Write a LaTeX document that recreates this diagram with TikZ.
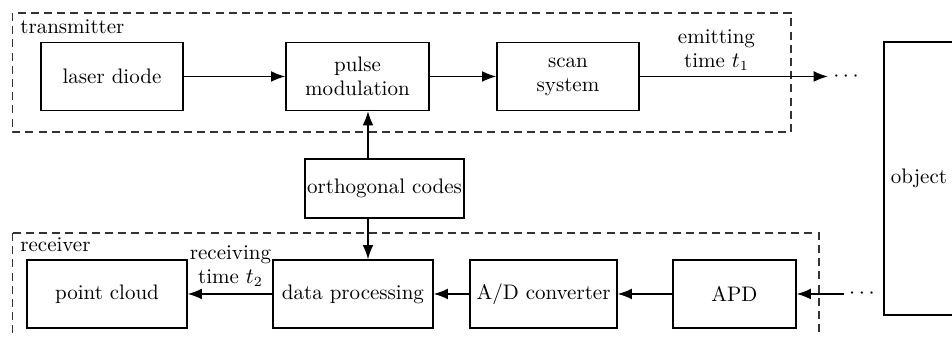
\documentclass[tikz,border=0pt]{standalone}
\usepackage{amsmath}
\usepackage{tikz}
\usetikzlibrary{arrows.meta, positioning, calc}

\begin{document}
\begin{tikzpicture}[
        font=\fontsize{10.5}{12}\selectfont,
        block/.style={draw, rectangle, line width=0.7pt, minimum height=1.195cm, align=center, inner sep=1pt},
        arrow/.style={-{Latex[length=2.5mm, width=1.9mm]}, line width=0.7pt},
        frame/.style={draw=black!80, line width=0.7pt, dash pattern=on 4pt off 2.6pt},
        tag/.style={anchor=base west, inner sep=0pt},
        more/.style={inner sep=2.5pt}
    ]
        \useasboundingbox (0,0) rectangle (16.73,-5.922);

        % Transmitter
        \draw[frame] (0.220,-0.228) rectangle (13.900,-2.320);
        \node[tag] (txname) at (0.351,-0.580) {transmitter};
        \node[block, minimum width=2.495cm] (laser) at (1.968,-1.344) {laser diode};
        \node[block, minimum width=2.513cm] (pulse) at (6.282,-1.344) {pulse\\modulation};
        \node[block, minimum width=2.495cm] (scan) at (9.981,-1.344) {scan\\system};
        \node[more] (outdots) at (14.900,-1.344) {$\cdots$};
        \node[align=center, inner sep=0pt] (emitlabel) at (12.591,-0.879) {emitting\\time $t_1$};

        % Codes
        \node[block, minimum width=2.794cm, minimum height=1.037cm] (codes) at (6.757,-3.313) {orthogonal codes};
        \coordinate (mid) at (6.467,0);

        % Receiver
        \draw[frame] (0.220,-4.094) -- (14.392,-4.094) -- (14.392,-6.063)
                     (0.220,-4.094) -- (0.220,-6.063);
        \node[tag] (rxname) at (0.351,-4.411) {receiver};
        \node[block, minimum width=2.812cm] (cloud) at (1.880,-5.166) {point cloud};
        \node[block, minimum width=2.812cm] (proc) at (6.203,-5.166) {data processing};
        \node[block, minimum width=2.583cm] (adc) at (9.551,-5.166) {A/D converter};
        \node[block, minimum width=2.161cm] (apd) at (12.907,-5.166) {APD};
        \node[more] (indots) at (15.180,-5.166) {$\cdots$};
        \node[align=center, inner sep=0pt] (recvlabel) at (4.050,-4.675) {receiving\\time $t_2$};

        % Object
        \node[block, minimum width=1.230cm, minimum height=4.797cm] (object) at (16.150,-3.137) {object};

        % Arrows
        \draw[arrow] (laser) -- (pulse);
        \draw[arrow] (pulse) -- (scan);
        \draw[arrow] (scan) -- (outdots);
        \draw[arrow] (codes.north -| mid) -- (pulse.south -| mid);
        \draw[arrow] (codes.south -| mid) -- (proc.north -| mid);
        \draw[arrow] (indots) -- (apd);
        \draw[arrow] (apd) -- (adc);
        \draw[arrow] (adc) -- (proc);
        \draw[arrow] (proc) -- (cloud);
    \end{tikzpicture}
\end{document}
